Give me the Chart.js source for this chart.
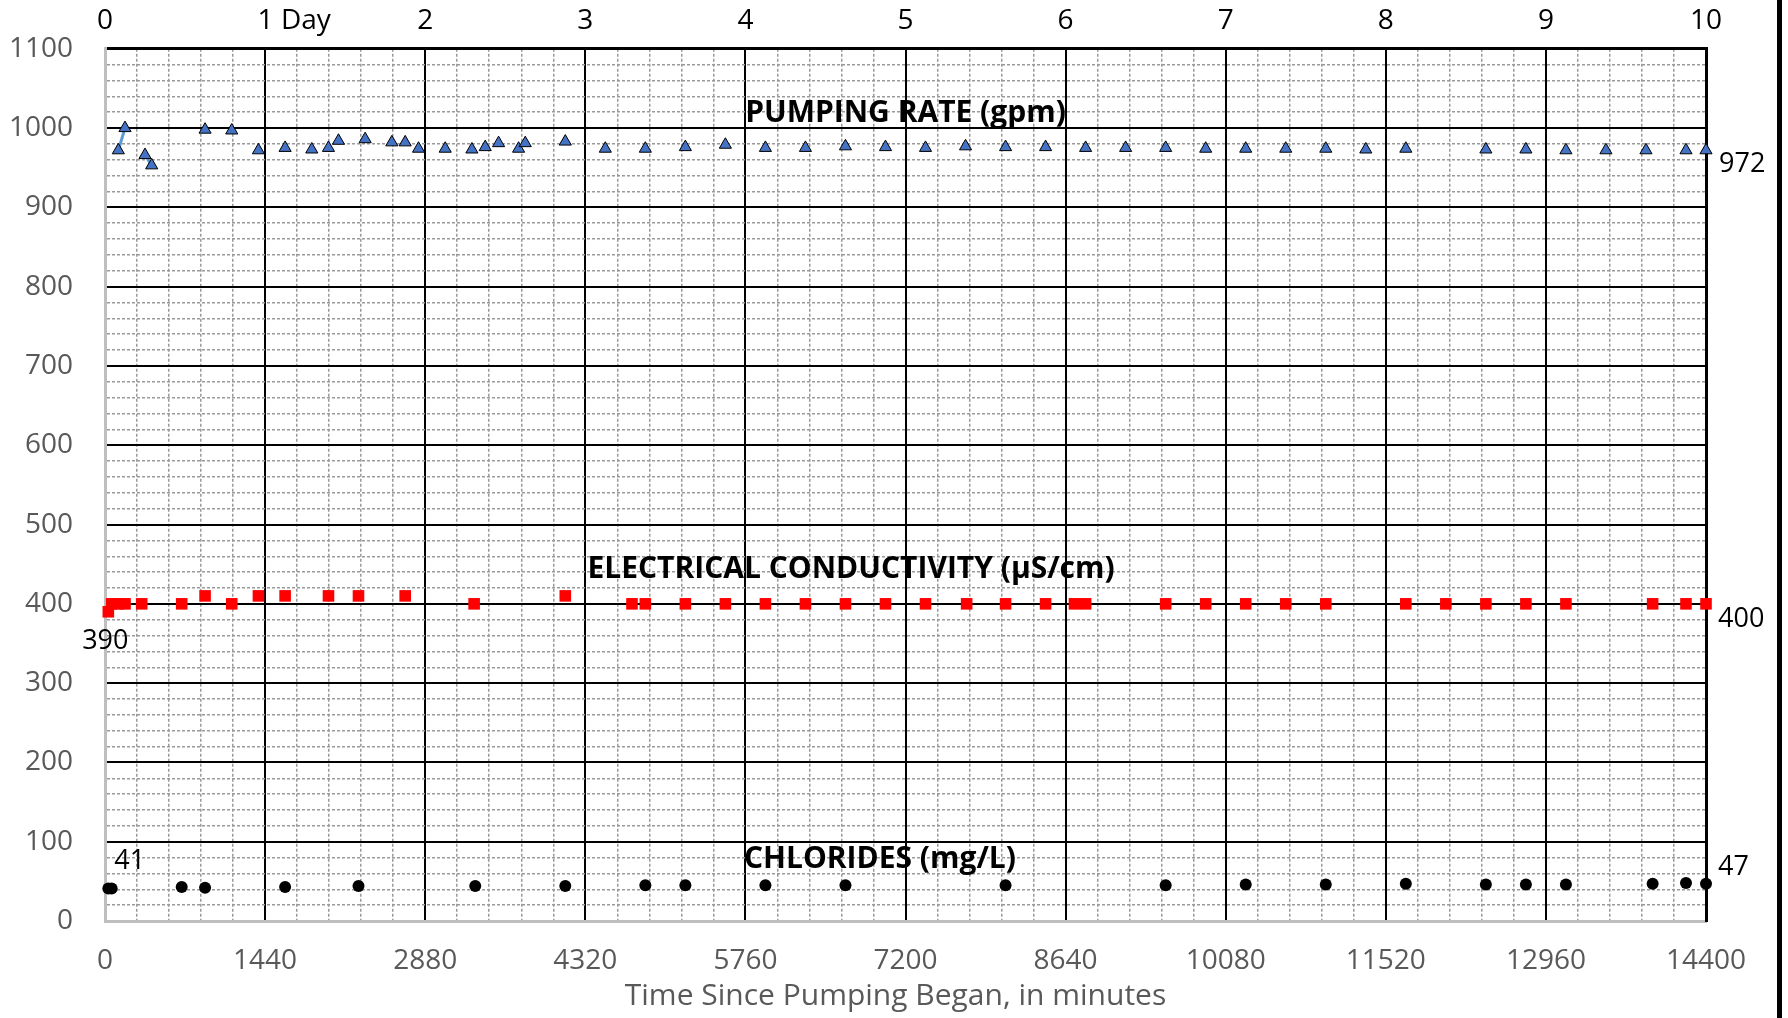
<!DOCTYPE html>
<html>
<head>
<meta charset="utf-8">
<script src="https://cdn.jsdelivr.net/npm/chart.js@4.4.1/dist/chart.umd.min.js"></script>
<style>
  html, body { margin: 0; padding: 0; background: #fff; }
  #wrap { width: 1788px; height: 1018px; position: relative; }
</style>
</head>
<body>
<div id="wrap"><canvas id="grafico"></canvas></div>
<script>
// minutes since pumping began
const pumpTime = [120, 180, 360, 420, 900, 1140, 1380, 1620, 1860, 2010, 2100, 2340, 2580, 2700, 2820,
  3060, 3300, 3420, 3540, 3720, 3780, 4140,
  4500, 4860, 5220, 5580, 5940, 6300, 6660, 7020, 7380, 7740, 8100, 8460, 8820, 9180, 9540,
  9900, 10260, 10620, 10980, 11340, 11700, 12420, 12780, 13140, 13500, 13860, 14220, 14400];
const pumpRate = [972, 1000, 966, 953, 998, 997, 972, 975, 973, 975, 984, 986, 982, 982, 974,
  974, 973, 976, 981, 974, 981, 983,
  974, 974, 976, 979, 975, 975, 977, 976, 975, 977, 976, 976, 975, 975, 975,
  974, 974, 974, 974, 973, 974, 973, 973, 972, 972, 972, 972, 972];
// pairs of pumping readings joined by a line in the original
const pumpLinked = [[0, 1], [2, 3]];

const ecTime = [30, 60, 120, 180, 330, 690, 900, 1140, 1380, 1620, 2010, 2280, 2700, 3320, 4140,
  4740, 4860, 5220, 5580, 5940, 6300, 6660, 7020, 7380, 7750, 8100, 8460, 8720, 8820, 9540,
  9900, 10260, 10620, 10980, 11700, 12060, 12420, 12780, 13140, 13920, 14220, 14400];
const ecValue = [390, 400, 400, 400, 400, 400, 410, 400, 410, 410, 410, 410, 410, 400, 410,
  400, 400, 400, 400, 400, 400, 400, 400, 400, 400, 400, 400, 400, 400, 400,
  400, 400, 400, 400, 400, 400, 400, 400, 400, 400, 400, 400];

const clTime = [30, 60, 690, 900, 1620, 2280, 3330, 4140, 4860, 5220, 5940, 6660, 8100, 9540,
  10260, 10980, 11700, 12420, 12780, 13140, 13920, 14220, 14400];
const clValue = [41, 41, 43, 42, 43, 44, 44, 44, 45, 45, 45, 45, 45, 45,
  46, 46, 47, 46, 46, 46, 47, 48, 47];

const dayLabels = ['0', '1 Day', '2', '3', '4', '5', '6', '7', '8', '9', '10'];
const seriesNames = ['PUMPING RATE (gpm)', 'ELECTRICAL CONDUCTIVITY (\u00b5S/cm)', 'CHLORIDES (mg/L)'];
const xTitle = 'Time Since Pumping Began, in minutes';

const toPts = (xs, ys) => xs.map((x, i) => ({ x: x, y: ys[i] }));

Chart.defaults.font.family = '"Open Sans", sans-serif';

const GRIS = '#595959';
const menor = '#9a9a9a';

// text drawn on top of the plot: series names, end-point values, axis title
const rotulos = {
  id: 'rotulos',
  afterDatasetsDraw(chart) {
    const ctx = chart.ctx;
    const sx = chart.scales.x, sy = chart.scales.y;
    ctx.save();
    ctx.fillStyle = '#000';
    ctx.textBaseline = 'middle';
    ctx.textAlign = 'center';
    ctx.font = 'bold 30px "Open Sans"';
    ctx.fillText(seriesNames[0], sx.getPixelForValue(7200), sy.getPixelForValue(1018));
    ctx.fillText(seriesNames[1], sx.getPixelForValue(6710), sy.getPixelForValue(443));
    ctx.fillText(seriesNames[2], sx.getPixelForValue(6970), sy.getPixelForValue(77));

    ctx.font = '27px "Open Sans"';
    const etiqueta = (ds, i, dx, dy, align) => {
      const p = chart.getDatasetMeta(ds).data[i];
      ctx.textAlign = align;
      ctx.fillText(String(chart.data.datasets[ds].data[i].y), p.x + dx, p.y + dy);
    };
    etiqueta(0, pumpTime.length - 1, 13, 14, 'left');
    etiqueta(1, 0, -3, 30, 'center');
    etiqueta(1, ecTime.length - 1, 12, 15, 'left');
    etiqueta(2, 0, 6, -27, 'left');
    etiqueta(2, clTime.length - 1, 12, -16, 'left');

    // axis title, sitting a little left of the plot centre as in the original
    ctx.fillStyle = GRIS;
    ctx.textAlign = 'center';
    ctx.font = '30px "Open Sans"';
    ctx.fillText(xTitle, sx.getPixelForValue(7110), chart.height - 22);
    ctx.restore();
  },
  afterDraw(chart) {
    // dark frame edge on the right side of the original picture
    chart.ctx.save();
    chart.ctx.fillStyle = '#000';
    chart.ctx.fillRect(1777, 0, 5, chart.height);
    chart.ctx.restore();
  }
};

const datasets = [
  {
    label: 'Pumping rate',
    data: toPts(pumpTime, pumpRate),
    pointStyle: 'triangle',
    pointRadius: 7,
    backgroundColor: '#4472c4',
    borderColor: '#000',
    borderWidth: 1,
    clip: false,
    order: 1
  },
  {
    label: 'Electrical conductivity',
    data: toPts(ecTime, ecValue),
    pointStyle: 'rect',
    pointRadius: 8.2,
    backgroundColor: '#ff0000',
    borderWidth: 0,
    clip: false,
    order: 1
  },
  {
    label: 'Chlorides',
    data: toPts(clTime, clValue),
    pointStyle: 'circle',
    pointRadius: 6,
    backgroundColor: '#000',
    borderWidth: 0,
    clip: false,
    order: 1
  }
];
pumpLinked.forEach(par => {
  datasets.push({
    label: 'link',
    data: par.map(i => ({ x: pumpTime[i], y: pumpRate[i] })),
    showLine: true,
    pointRadius: 0,
    borderColor: '#5b9bd5',
    borderWidth: 3,
    order: 2
  });
});

new Chart(document.getElementById('grafico'), {
  type: 'scatter',
  data: { datasets: datasets },
  options: {
    responsive: true,
    maintainAspectRatio: false,
    animation: false,
    events: [],
    layout: { padding: 0 },
    plugins: {
      legend: { display: false },
      tooltip: { enabled: false }
    },
    scales: {
      x: {
        type: 'linear',
        position: 'bottom',
        min: 0,
        max: 14400,
        afterFit: s => { s.height = 97; },
        ticks: {
          stepSize: 288,
          autoSkip: false,
          maxRotation: 0,
          color: GRIS,
          padding: 23,
          font: { size: 28 },
          callback: v => (v % 1440 === 0 ? v : '')
        },
        grid: {
          drawTicks: false,
          z: -2,
          color: c => {
            const v = c.tick.value;
            if (v === 0) return 'rgba(0,0,0,0)';
            return v % 1440 === 0 ? '#000' : menor;
          },
          lineWidth: c => (c.tick.value % 1440 === 0 ? 2 : 1.5)
        },
        border: {
          color: '#bfbfbf',
          width: 3,
          dash: c => (c.tick && c.tick.value % 1440 !== 0 ? [3, 2] : [])
        }
      },
      xTop: {
        type: 'linear',
        position: 'top',
        min: 0,
        max: 14400,
        afterFit: s => { s.height = 47; },
        ticks: {
          stepSize: 1440,
          autoSkip: false,
          maxRotation: 0,
          color: '#000',
          padding: 11,
          font: { size: 28 },
          callback: v => {
            const lab = dayLabels[Math.round(v / 1440)];
            // keep the number itself on the day line
            return v === 1440 ? '        ' + lab : lab;
          }
        },
        grid: { display: false, drawTicks: false },
        border: { color: '#000', width: 3 }
      },
      y: {
        position: 'left',
        min: 0,
        max: 1100,
        afterFit: s => { s.width = 105; },
        ticks: {
          stepSize: 20,
          autoSkip: false,
          color: GRIS,
          padding: 32,
          font: { size: 28 },
          callback: v => (v % 100 === 0 ? v : '')
        },
        grid: {
          drawTicks: false,
          z: -2,
          color: c => {
            const v = c.tick.value;
            if (v === 0) return 'rgba(0,0,0,0)';
            return v % 100 === 0 ? '#000' : menor;
          },
          lineWidth: c => (c.tick.value % 100 === 0 ? 2 : 1.5)
        },
        border: {
          color: '#bfbfbf',
          width: 3,
          dash: c => (c.tick && c.tick.value % 100 !== 0 ? [3, 2] : [])
        }
      },
      y2: {
        position: 'right',
        min: 0,
        max: 1100,
        afterFit: s => { s.width = 82; },
        ticks: { display: false },
        grid: { display: false, drawTicks: false },
        border: { color: '#000', width: 3 }
      }
    }
  },
  plugins: [rotulos]
});
</script>
</body>
</html>
